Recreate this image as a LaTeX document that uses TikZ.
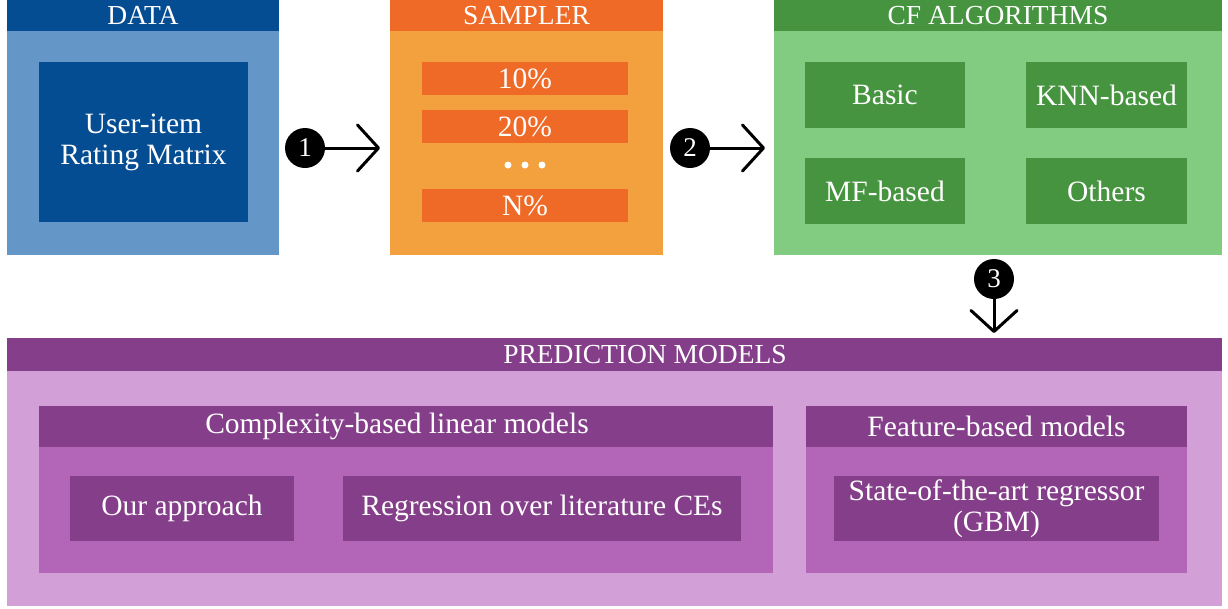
\documentclass[tikz,border=0pt]{standalone}
\usepackage{fontspec}
\setmainfont{Liberation Serif}
\usetikzlibrary{arrows.meta}
\definecolor{dblue}{HTML}{054D93}
\definecolor{lblue}{HTML}{6497C8}
\definecolor{dorange}{HTML}{EE6A26}
\definecolor{lorange}{HTML}{F3A13F}
\definecolor{dgreen}{HTML}{46943F}
\definecolor{lgreen}{HTML}{82CC82}
\definecolor{dpurple}{HTML}{853F8A}
\definecolor{mpurple}{HTML}{B366B8}
\definecolor{lpurple}{HTML}{D29FD6}
\tikzset{
  blk/.style={anchor=north west, inner sep=0pt, outer sep=0pt, text=white, align=center,
    font=\fontsize{29.5}{31}\selectfont},
  hdr/.style={anchor=north west, inner sep=0pt, outer sep=0pt, text=white,
    font=\fontsize{27.5}{30}\selectfont},
  subhdr/.style={anchor=north west, inner sep=0pt, outer sep=0pt, text=white,
    font=\fontsize{29.5}{30}\selectfont},
  num/.style={circle, fill=black, minimum size=40pt, inner sep=0pt, text=white,
    font=\fontsize{27}{27}\selectfont},
  flow/.style={line width=3pt, -{Straight Barb[length=21pt,width=46pt,round]}},
  dot/.style={circle, fill=white, minimum size=7pt, inner sep=0pt},
}
\begin{document}
\begin{tikzpicture}[x=1pt,y=-1pt]
\useasboundingbox (0,0) rectangle (1228,608);
% DATA
\node[blk, fill=lblue, minimum width=272pt, minimum height=255pt] (data) at (7,0) {};
\node[hdr, fill=dblue, minimum width=272pt, minimum height=31pt] (datah) at (7,0) {DATA};
\node[blk, fill=dblue, minimum width=209pt, minimum height=160pt] (matrix) at (39,62) {User-item\\Rating Matrix};
% SAMPLER
\node[blk, fill=lorange, minimum width=273pt, minimum height=255pt] (sampler) at (390,0) {};
\node[hdr, fill=dorange, minimum width=273pt, minimum height=31pt] (samplerh) at (390,0) {SAMPLER};
\node[blk, fill=dorange, minimum width=206pt, minimum height=33pt] (s10) at (422,62) {10\%};
\node[blk, fill=dorange, minimum width=206pt, minimum height=33pt] (s20) at (422,110) {20\%};
\node[dot] (d1) at (508,165) {};
\node[dot] (d2) at (525,165) {};
\node[dot] (d3) at (542,165) {};
\node[blk, fill=dorange, minimum width=206pt, minimum height=33pt] (sN) at (422,189) {N\%};
% CF ALGORITHMS
\node[blk, fill=lgreen, minimum width=448pt, minimum height=255pt] (cf) at (774,0) {};
\node[hdr, fill=dgreen, minimum width=448pt, minimum height=31pt] (cfh) at (774,0) {CF ALGORITHMS};
\node[blk, fill=dgreen, minimum width=160pt, minimum height=66pt] (basic) at (805,62) {Basic};
\node[blk, fill=dgreen, minimum width=161pt, minimum height=66pt] (knn) at (1026,62) {KNN-based};
\node[blk, fill=dgreen, minimum width=160pt, minimum height=66pt] (mf) at (805,158) {MF-based};
\node[blk, fill=dgreen, minimum width=161pt, minimum height=66pt] (others) at (1026,158) {Others};
% PREDICTION MODELS
\node[blk, fill=lpurple, minimum width=1215pt, minimum height=268pt] (pred) at (7,338) {};
\node[hdr, fill=dpurple, minimum width=1215pt, minimum height=33pt] (predh) at (7,338) {};
\node[hdr, anchor=center] (predt) at (645,355) {PREDICTION MODELS};
\node[blk, fill=mpurple, minimum width=734pt, minimum height=167pt] (cx) at (39,406) {};
\node[subhdr, fill=dpurple, minimum width=734pt, minimum height=41pt] (cxh) at (39,406) {};
\node[subhdr, anchor=center] (cxt) at (397,426.5) {Complexity-based linear models};
\node[blk, fill=dpurple, minimum width=224pt, minimum height=65pt] (ours) at (70,476) {Our approach};
\node[blk, fill=dpurple, minimum width=398pt, minimum height=65pt] (reg) at (343,476) {Regression over literature CEs};
\node[blk, fill=mpurple, minimum width=381pt, minimum height=167pt] (fb) at (806,406) {};
\node[subhdr, fill=dpurple, minimum width=381pt, minimum height=41pt] (fbh) at (806,406) {Feature-based models};
\node[blk, fill=dpurple, minimum width=325pt, minimum height=65pt] (gbm) at (834,476) {State-of-the-art regressor\\(GBM)};
% Flow arrows
\node[num] (n1) at (305,148) {1};
\coordinate (t1) at (380,148);
\draw[flow] (n1.east) -- (t1);
\node[num] (n2) at (690,148) {2};
\coordinate (t2) at (765,148);
\draw[flow] (n2.east) -- (t2);
\node[num] (n3) at (994,279) {3};
\coordinate (t3) at (994,333);
\draw[flow] (n3.south) -- (t3);
\end{tikzpicture}
\end{document}
